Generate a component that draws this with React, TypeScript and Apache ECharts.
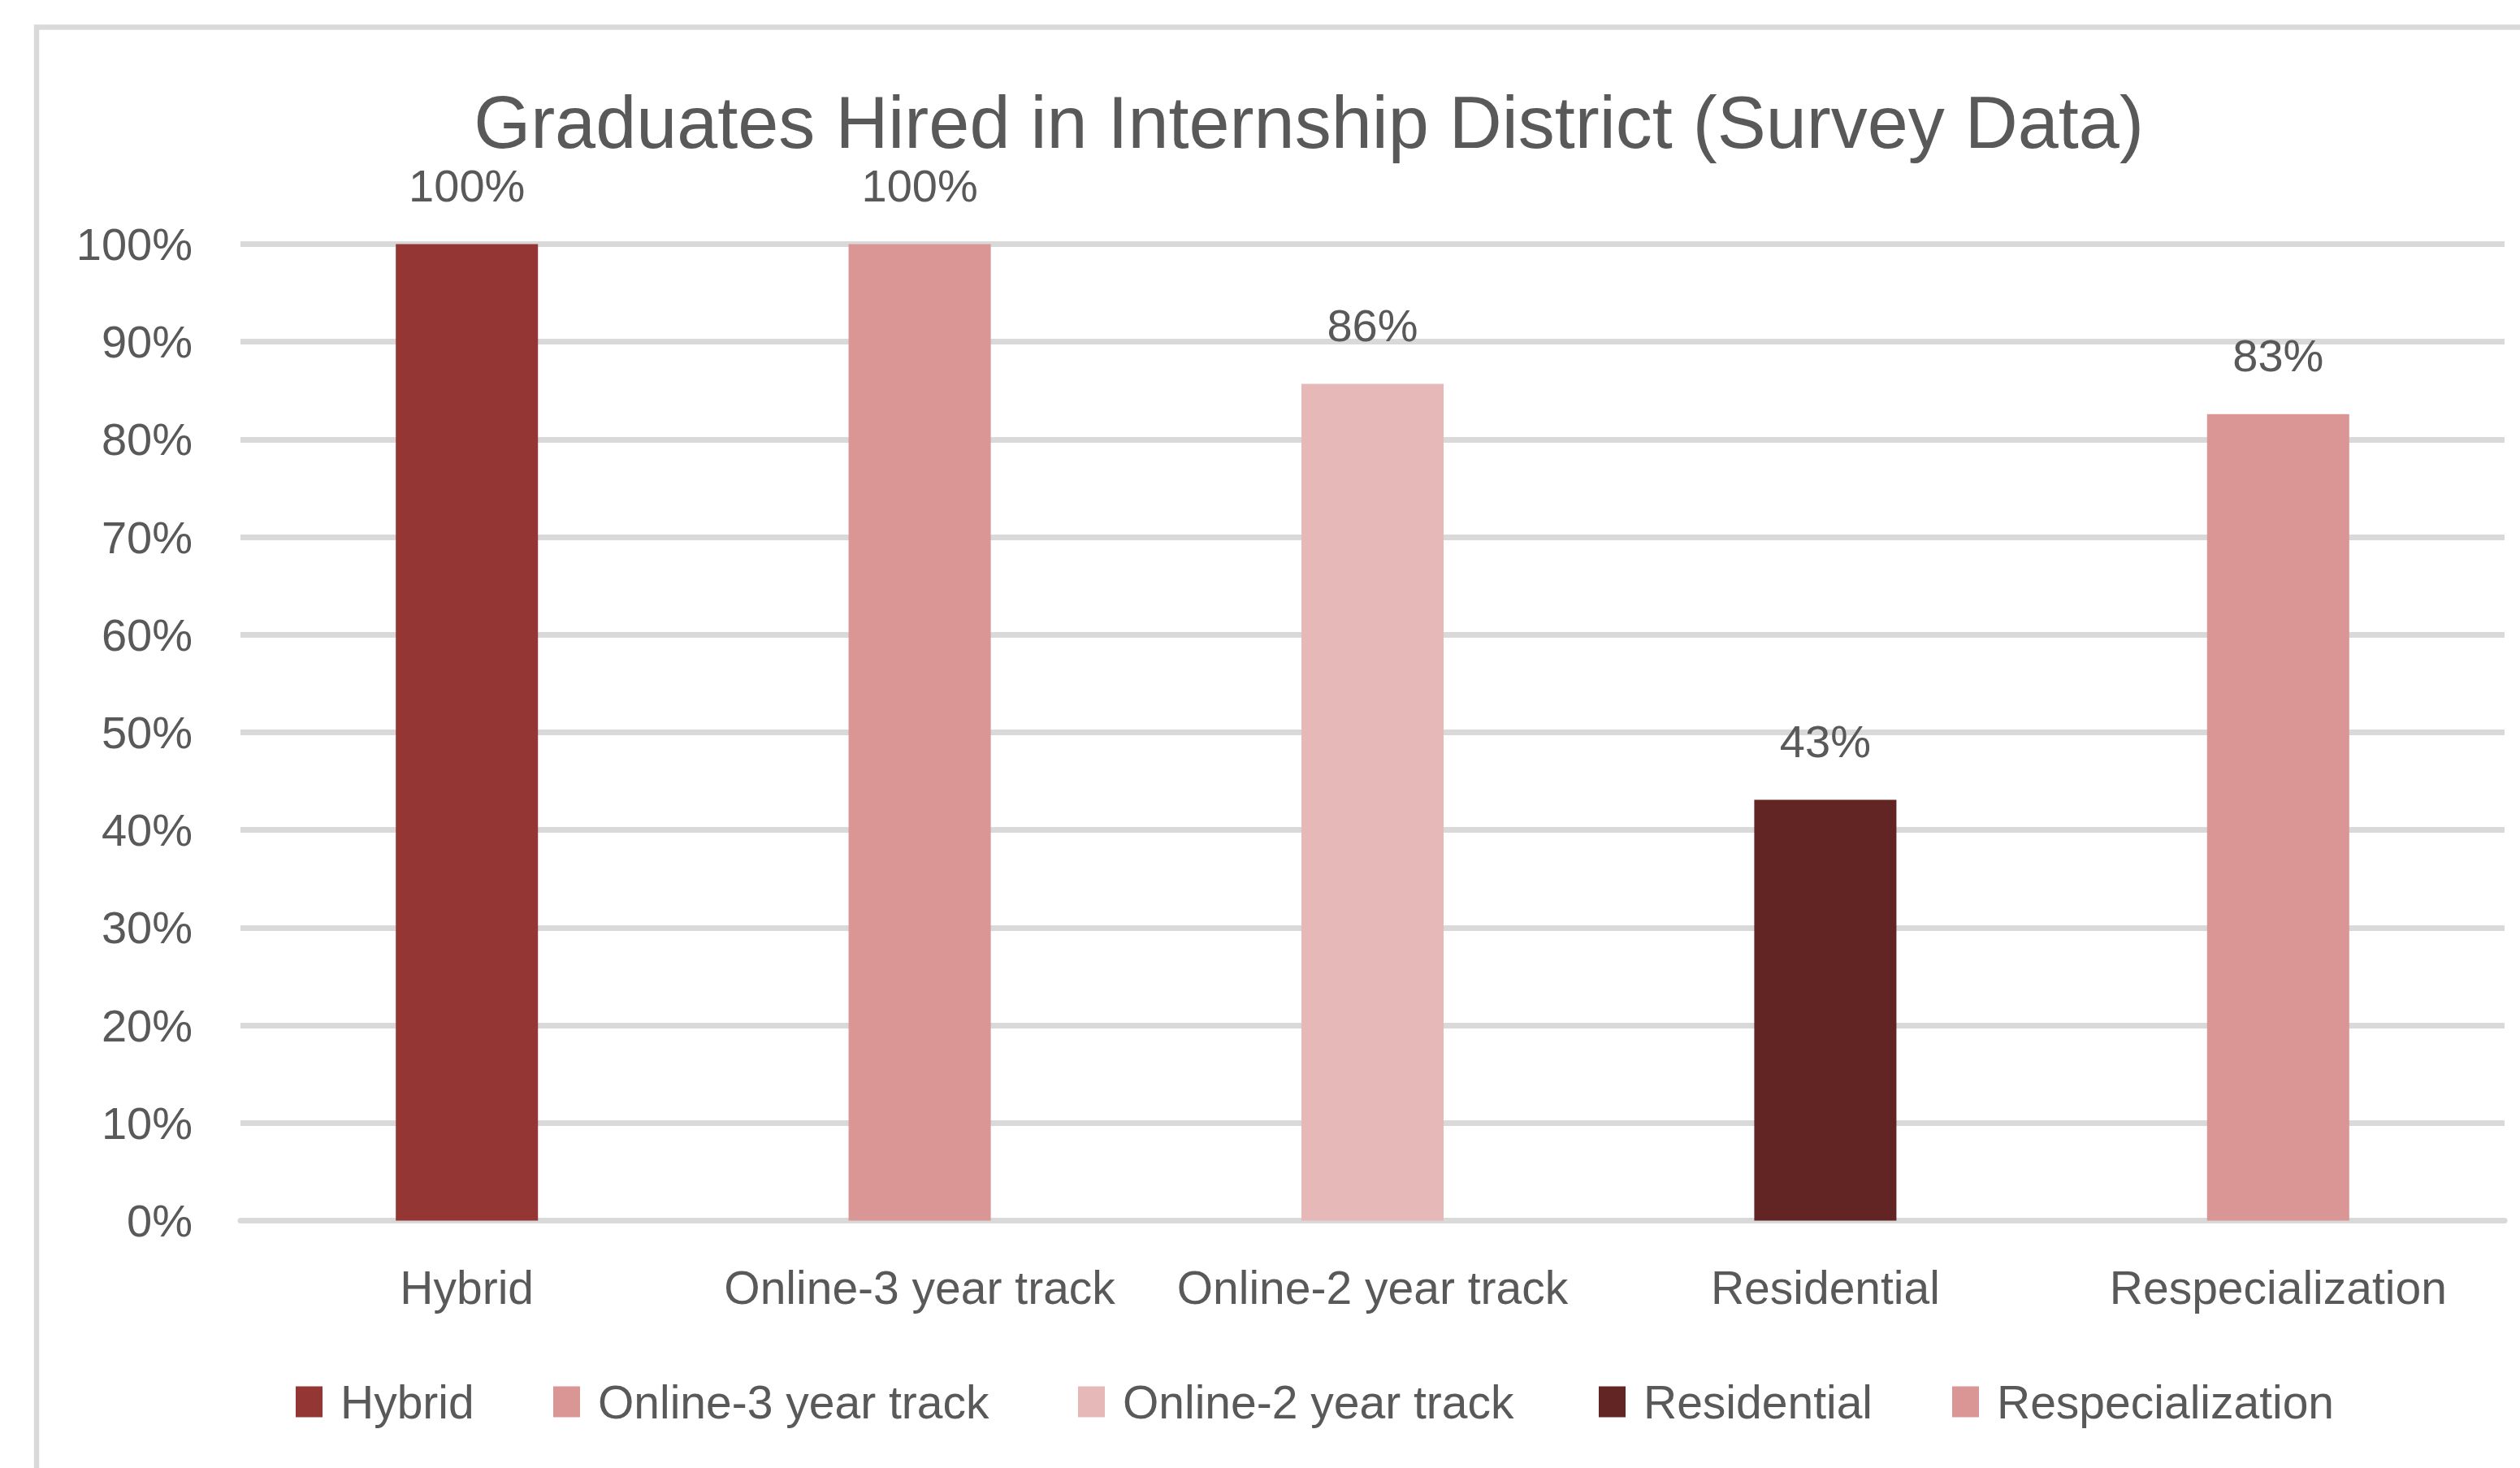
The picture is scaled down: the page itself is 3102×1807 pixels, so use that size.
import React, { useEffect, useRef } from "react";
import * as echarts from "echarts";

const title = "Graduates Hired in Internship District (Survey Data)";
const categories = ["Hybrid", "Online-3 year track", "Online-2 year track", "Residential", "Respecialization"];
const values = [100, 100, 85.7, 43.1, 82.6];
const colors = ["#943634", "#D99694", "#E6B9B8", "#632523", "#D99694"];
const legendLefts = [364, 681, 1327, 1968, 2403];

const FONT = "'Liberation Sans', Arial, sans-serif";
const TEXT = "#595959";
const GRID = "#D9D9D9";

export default function App() {
  const ref = useRef<HTMLDivElement>(null);
  useEffect(() => {
    document.body.style.margin = "0";
    const chart = echarts.init(ref.current!, null, { renderer: "svg" });
    const series = categories.map((name, i) => ({
      name,
      type: "bar",
      barWidth: 175,
      barGap: "-100%",
      itemStyle: { color: colors[i] },
      data: categories.map((_, j) => (j === i ? values[i] : "-")),
      label: {
        show: true,
        position: "top",
        distance: 44,
        fontSize: 56,
        fontFamily: FONT,
        color: TEXT,
        formatter: (p: any) => Math.round(p.value) + "%",
      },
    }));
    chart.setOption({
      animation: false,
      backgroundColor: "#ffffff",
      textStyle: { fontFamily: FONT },
      title: {
        text: title,
        left: 1606,
        textAlign: "center",
        top: 101,
        textStyle: { fontSize: 90, fontWeight: "normal", color: TEXT, fontFamily: FONT },
      },
      graphic: [
        {
          type: "rect",
          shape: { x: 45, y: 33.5, width: 3300, height: 2000 },
          style: { fill: "none", stroke: GRID, lineWidth: 6.5 },
          silent: true,
        },
      ],
      legend: categories.map((name, i) => ({
        data: [name],
        left: legendLefts[i],
        top: 1697,
        icon: "rect",
        itemWidth: 33,
        itemHeight: 38,
        padding: 0,
        selectedMode: false,
        textStyle: { fontSize: 57, color: TEXT, fontFamily: FONT, lineHeight: 38, padding: [0, 0, 0, 17] },
      })),
      grid: { left: 296, right: 19, top: 300.5, bottom: 304.5, containLabel: false },
      xAxis: {
        type: "category",
        data: categories,
        axisTick: { show: false },
        axisLine: { show: true, lineStyle: { color: GRID, width: 7 } },
        axisLabel: { fontSize: 57, color: TEXT, fontFamily: FONT, margin: 54, interval: 0 },
      },
      yAxis: {
        type: "value",
        min: 0,
        max: 100,
        interval: 10,
        axisLine: { show: false },
        axisTick: { show: false },
        splitLine: { lineStyle: { color: GRID, width: 7 } },
        axisLabel: { fontSize: 56, color: TEXT, fontFamily: FONT, margin: 59, formatter: "{value}%" },
      },
      series,
    });
    return () => chart.dispose();
  }, []);
  return <div ref={ref} style={{ width: 3102, height: 1807 }} />;
}
